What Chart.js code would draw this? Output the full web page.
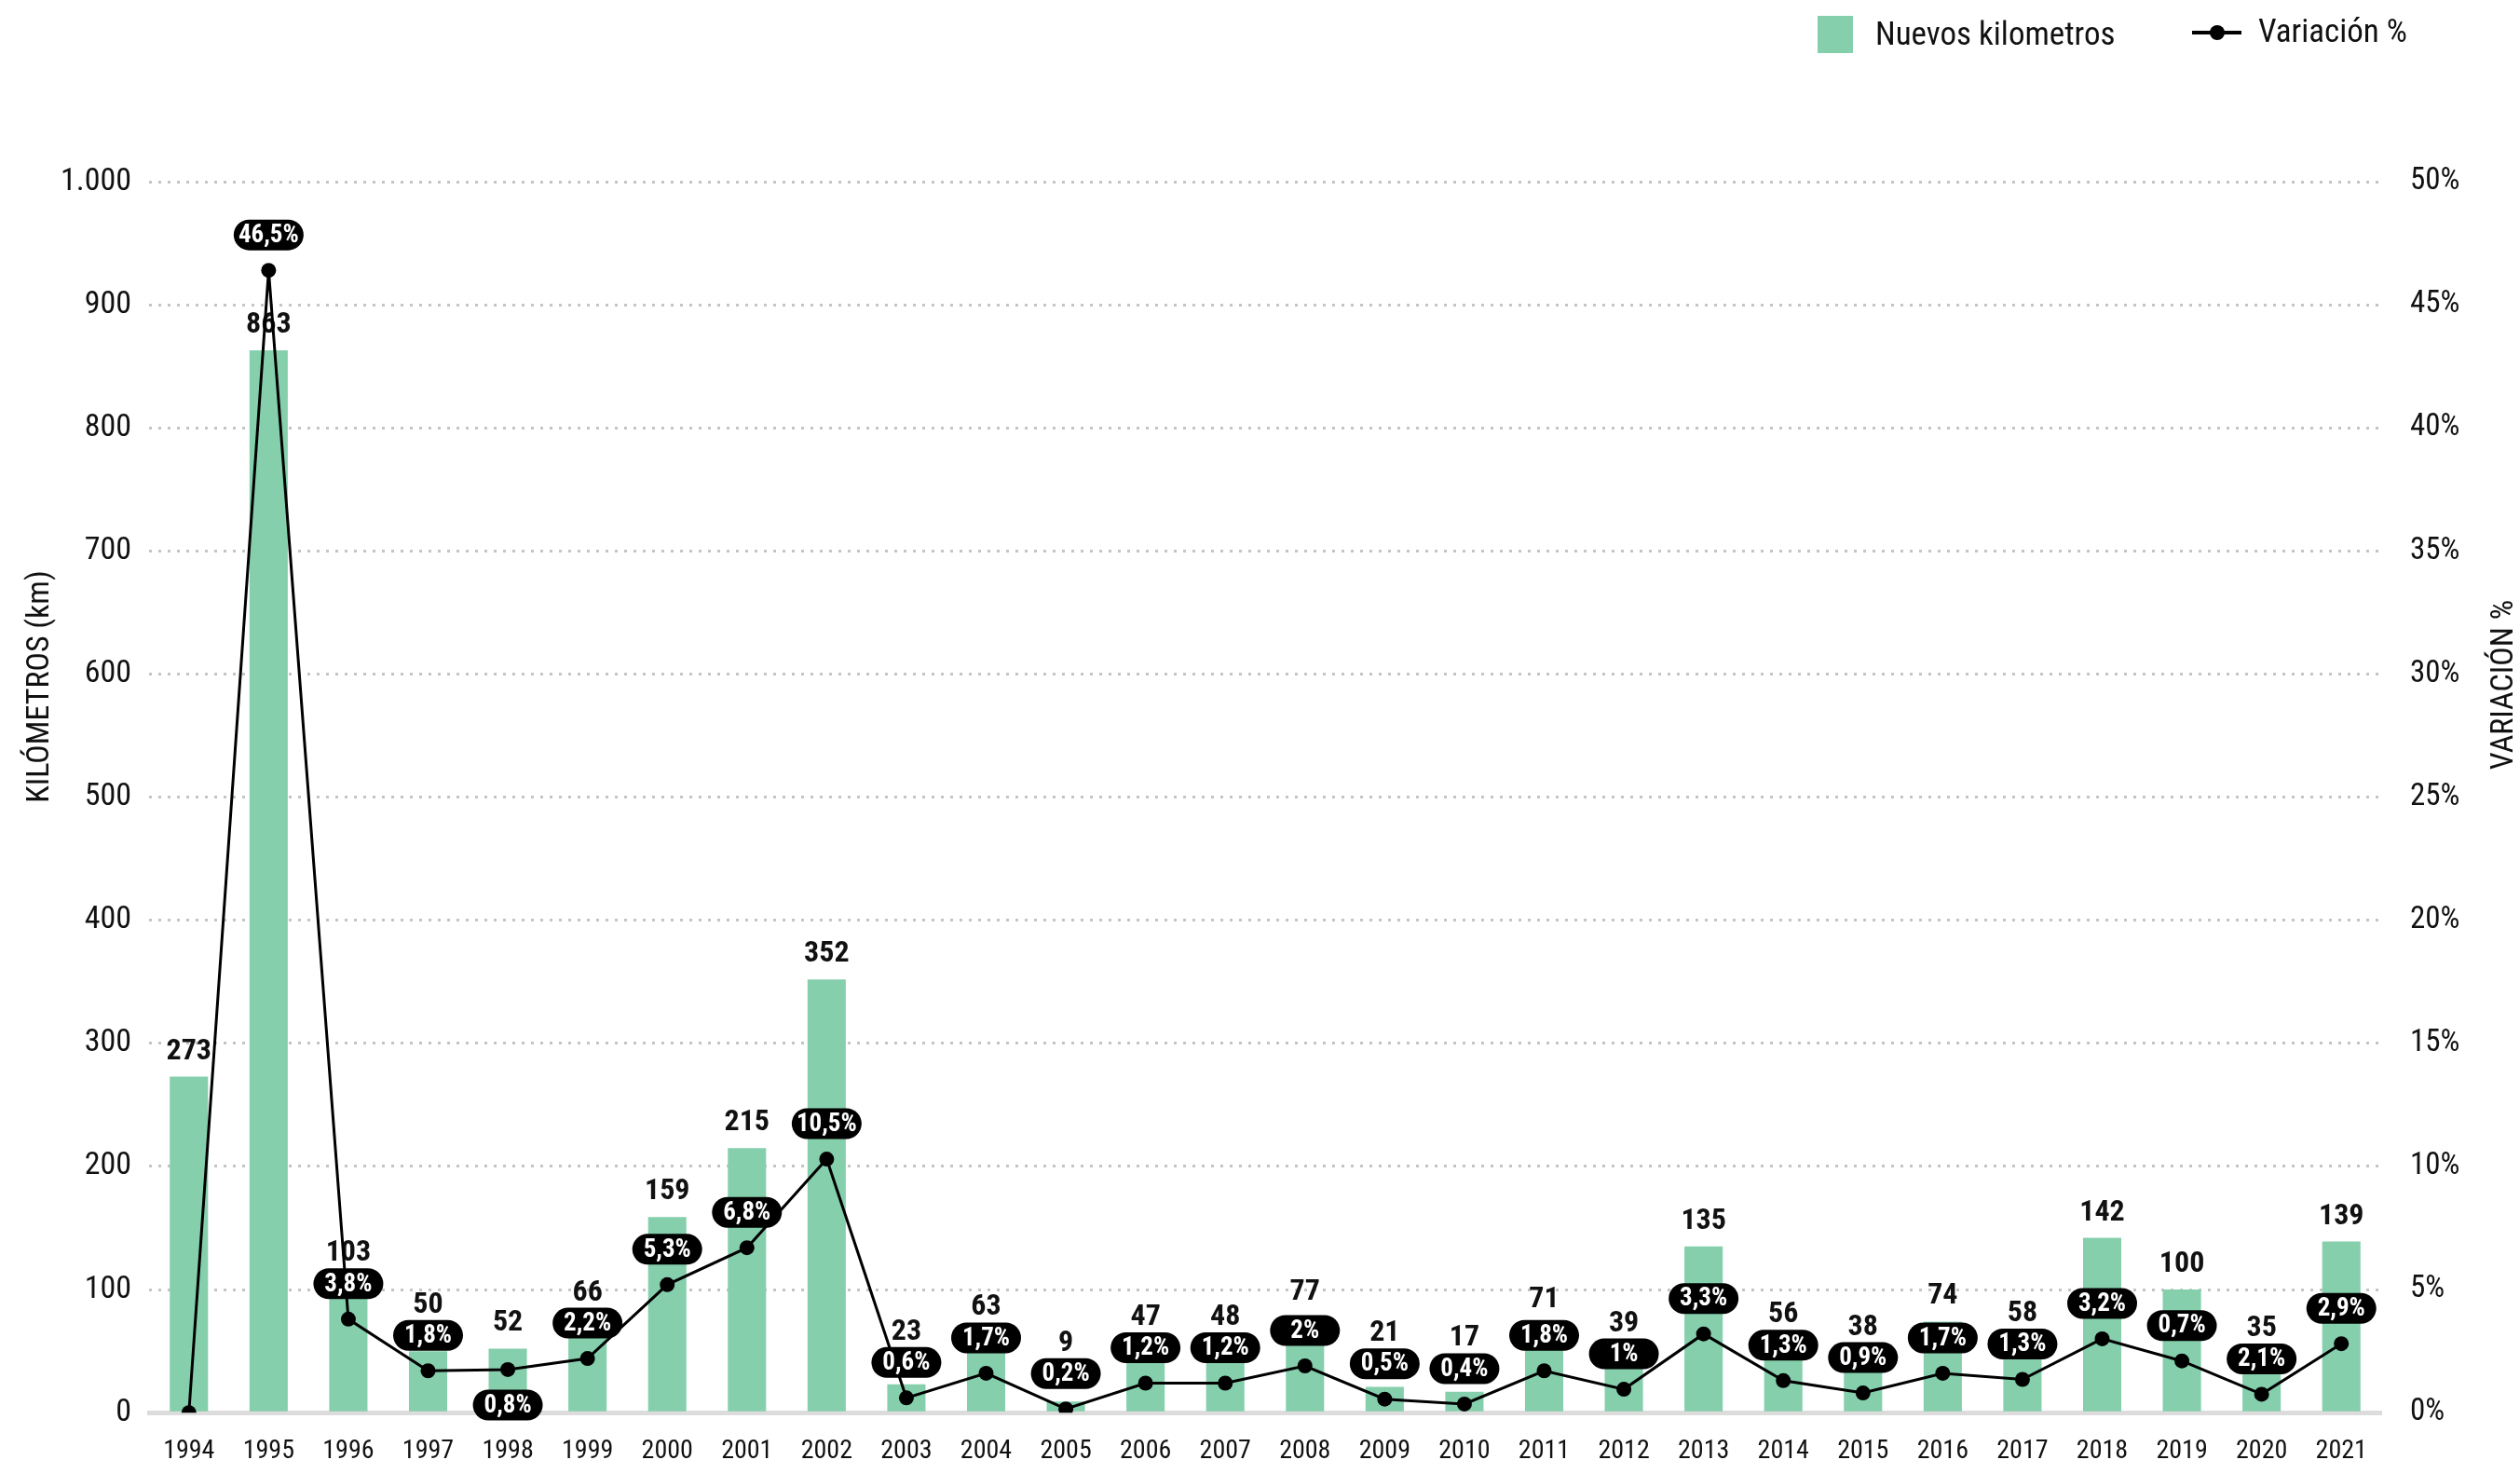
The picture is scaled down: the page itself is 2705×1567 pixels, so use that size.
<!DOCTYPE html>
<html lang="es">
<head>
<meta charset="utf-8">
<title>Nuevos kilómetros y variación</title>
<script src="https://cdn.jsdelivr.net/npm/chart.js@4.4.1/dist/chart.umd.min.js"></script>
<style>
  html, body { margin: 0; padding: 0; background: #fff; }
  #wrap { width: 2705px; height: 1567px; }
</style>
</head>
<body>
<div id="wrap"><canvas id="chart" width="2705" height="1567"></canvas></div>
<script>
// datos
const years = ['1994', '1995', '1996', '1997', '1998', '1999', '2000', '2001', '2002', '2003',
    '2004', '2005', '2006', '2007', '2008', '2009', '2010', '2011', '2012', '2013',
    '2014', '2015', '2016', '2017', '2018', '2019', '2020', '2021'];
const kilometros = [273, 863, 103, 50, 52, 66, 159, 215, 352, 23, 63, 9, 47, 48, 77, 21, 17,
    71, 39, 135, 56, 38, 74, 58, 142, 100, 35, 139];
// posición de los puntos
const variacion = [0, 46.4, 3.8, 1.7, 1.75, 2.2, 5.2, 6.7, 10.3, 0.6, 1.6, 0.15, 1.2, 1.2, 1.9,
    0.55, 0.35, 1.7, 0.95, 3.2, 1.3, 0.8, 1.6, 1.35, 3.0, 2.1, 0.75, 2.8];
// textos de las etiquetas tal como aparecen
const variacionLabels = ['', '46,5%', '3,8%', '1,8%', '0,8%', '2,2%', '5,3%', '6,8%', '10,5%',
    '0,6%', '1,7%', '0,2%', '1,2%', '1,2%', '2%', '0,5%', '0,4%', '1,8%', '1%', '3,3%', '1,3%',
    '0,9%', '1,7%', '1,3%', '3,2%', '0,7%', '2,1%', '2,9%'];
const labelsBelow = ['1998'];
const kmMax = 1000, kmStep = 100;
const pctMax = 50, pctStep = 5;

const FONT = "'Roboto Condensed', 'Liberation Sans Narrow', 'Arial Narrow', 'DejaVu Sans Condensed', Roboto, sans-serif";
const BAR_COLOR = '#85cfad';
const TEXT = '#111';

function formatKm(v) {
    return String(v).replace(/\B(?=(\d{3})+(?!\d))/g, '.');
}

// caja de la etiqueta negra de variación (ancho fijo)
function badgeBox(text, x, y, below) {
    const w = 75;
    const h = 33;
    const cy = below ? y + 38 : y - 38;
    return { x: x - w / 2, y: cy - h / 2, w: w, h: h, cx: x, cy: cy };
}

function getBadges(chart) {
    const meta = chart.getDatasetMeta(1);
    return meta.data.map(function(pt, i) {
        const text = variacionLabels[i];
        if (!text) return null;
        const below = labelsBelow.includes(years[i]);
        const box = badgeBox(text, pt.x, pt.y, below);
        box.text = text;
        box.below = below;
        return box;
    });
}

const etiquetas = {
    id: 'etiquetas',
    afterDatasetDraw(chart, args) {
        if (args.index !== 0) return;
        const ctx = chart.ctx;
        const badges = getBadges(chart);
        ctx.save();
        ctx.font = 'bold 32px ' + FONT;
        ctx.fillStyle = TEXT;
        ctx.textAlign = 'center';
        ctx.textBaseline = 'middle';
        args.meta.data.forEach(function(bar, i) {
            let cy = bar.y - 27;
            const b = badges[i];
            if (b && !b.below && cy + 14 > b.y && cy - 14 < b.y + b.h) {
                cy = b.y - 16;
            }
            ctx.fillText(String(kilometros[i]), bar.x, cy);
        });
        ctx.restore();
    },
    afterDatasetsDraw(chart) {
        const ctx = chart.ctx;
        const badges = getBadges(chart);
        ctx.save();
        badges.forEach(function(b) {
            if (!b) return;
            ctx.fillStyle = '#000';
            ctx.beginPath();
            ctx.roundRect(b.x, b.y, b.w, b.h, b.h / 2);
            ctx.fill();
            ctx.font = 'bold 27px ' + FONT;
            ctx.fillStyle = '#fff';
            ctx.textAlign = 'center';
            ctx.textBaseline = 'middle';
            ctx.fillText(b.text, b.cx, b.cy + 1, b.w - 6);
        });
        ctx.restore();
    },
    afterDraw(chart) {
        const ctx = chart.ctx;
        ctx.save();
        // títulos de ejes
        ctx.fillStyle = TEXT;
        ctx.font = '34px ' + FONT;
        ctx.textAlign = 'center';
        ctx.textBaseline = 'middle';
        ctx.save();
        ctx.translate(43, 737);
        ctx.rotate(-Math.PI / 2);
        ctx.fillText('KILÓMETROS (km)', 0, 0);
        ctx.restore();
        ctx.save();
        ctx.translate(2688, 735);
        ctx.rotate(-Math.PI / 2);
        ctx.fillText('VARIACIÓN %', 0, 0);
        ctx.restore();

        // leyenda
        const ds = chart.data.datasets;
        ctx.fillStyle = BAR_COLOR;
        ctx.fillRect(1951, 17, 38, 40);
        ctx.fillStyle = TEXT;
        ctx.textAlign = 'left';
        ctx.font = '35px ' + FONT;
        ctx.fillText(ds[0].label, 2013, 39);
        ctx.strokeStyle = '#000';
        ctx.lineWidth = 4;
        ctx.beginPath();
        ctx.moveTo(2353, 35);
        ctx.lineTo(2406, 35);
        ctx.stroke();
        ctx.fillStyle = '#000';
        ctx.beginPath();
        ctx.arc(2380, 35, 8, 0, Math.PI * 2);
        ctx.fill();
        ctx.fillStyle = TEXT;
        ctx.fillText(ds[1].label, 2424, 36);
        ctx.restore();
    }
};

new Chart(document.getElementById('chart'), {
    data: {
        labels: years,
        datasets: [{
            type: 'bar',
            label: 'Nuevos kilometros',
            data: kilometros,
            backgroundColor: BAR_COLOR,
            yAxisID: 'y',
            order: 1,
            categoryPercentage: 1,
            barPercentage: 0.48
        }, {
            type: 'line',
            label: 'Variación %',
            data: variacion,
            borderColor: '#000',
            borderWidth: 3,
            pointRadius: 8,
            pointBackgroundColor: '#000',
            pointBorderWidth: 0,
            tension: 0,
            yAxisID: 'y1',
            order: 0
        }]
    },
    options: {
        responsive: false,
        devicePixelRatio: 1,
        animation: false,
        layout: {
            padding: { top: 195, left: 0, right: 0, bottom: 0 }
        },
        plugins: {
            legend: { display: false },
            tooltip: { enabled: false }
        },
        scales: {
            x: {
                grid: { display: false, drawTicks: false },
                border: { display: true, color: '#dcdcdc', width: 5 },
                ticks: {
                    color: TEXT,
                    padding: 25,
                    maxRotation: 0,
                    autoSkip: false,
                    font: { family: FONT, size: 28 }
                },
                afterFit: function(scale) { scale.height = 50; }
            },
            y: {
                position: 'left',
                min: 0,
                max: kmMax,
                grid: { color: '#c4c4c4', lineWidth: 3, drawTicks: false },
                border: { display: false, dash: [3, 7] },
                ticks: {
                    stepSize: kmStep,
                    color: TEXT,
                    padding: 19,
                    font: { family: FONT, size: 34 },
                    callback: function(value) { return formatKm(value); }
                },
                afterFit: function(scale) { scale.width = 160; }
            },
            y1: {
                position: 'right',
                min: 0,
                max: pctMax,
                grid: { display: false, drawTicks: false },
                border: { display: false },
                ticks: {
                    stepSize: pctStep,
                    color: TEXT,
                    padding: 31,
                    font: { family: FONT, size: 33 },
                    callback: function(value) { return value + '%'; }
                },
                afterFit: function(scale) { scale.width = 149; }
            }
        }
    },
    plugins: [etiquetas]
});
</script>
</body>
</html>
